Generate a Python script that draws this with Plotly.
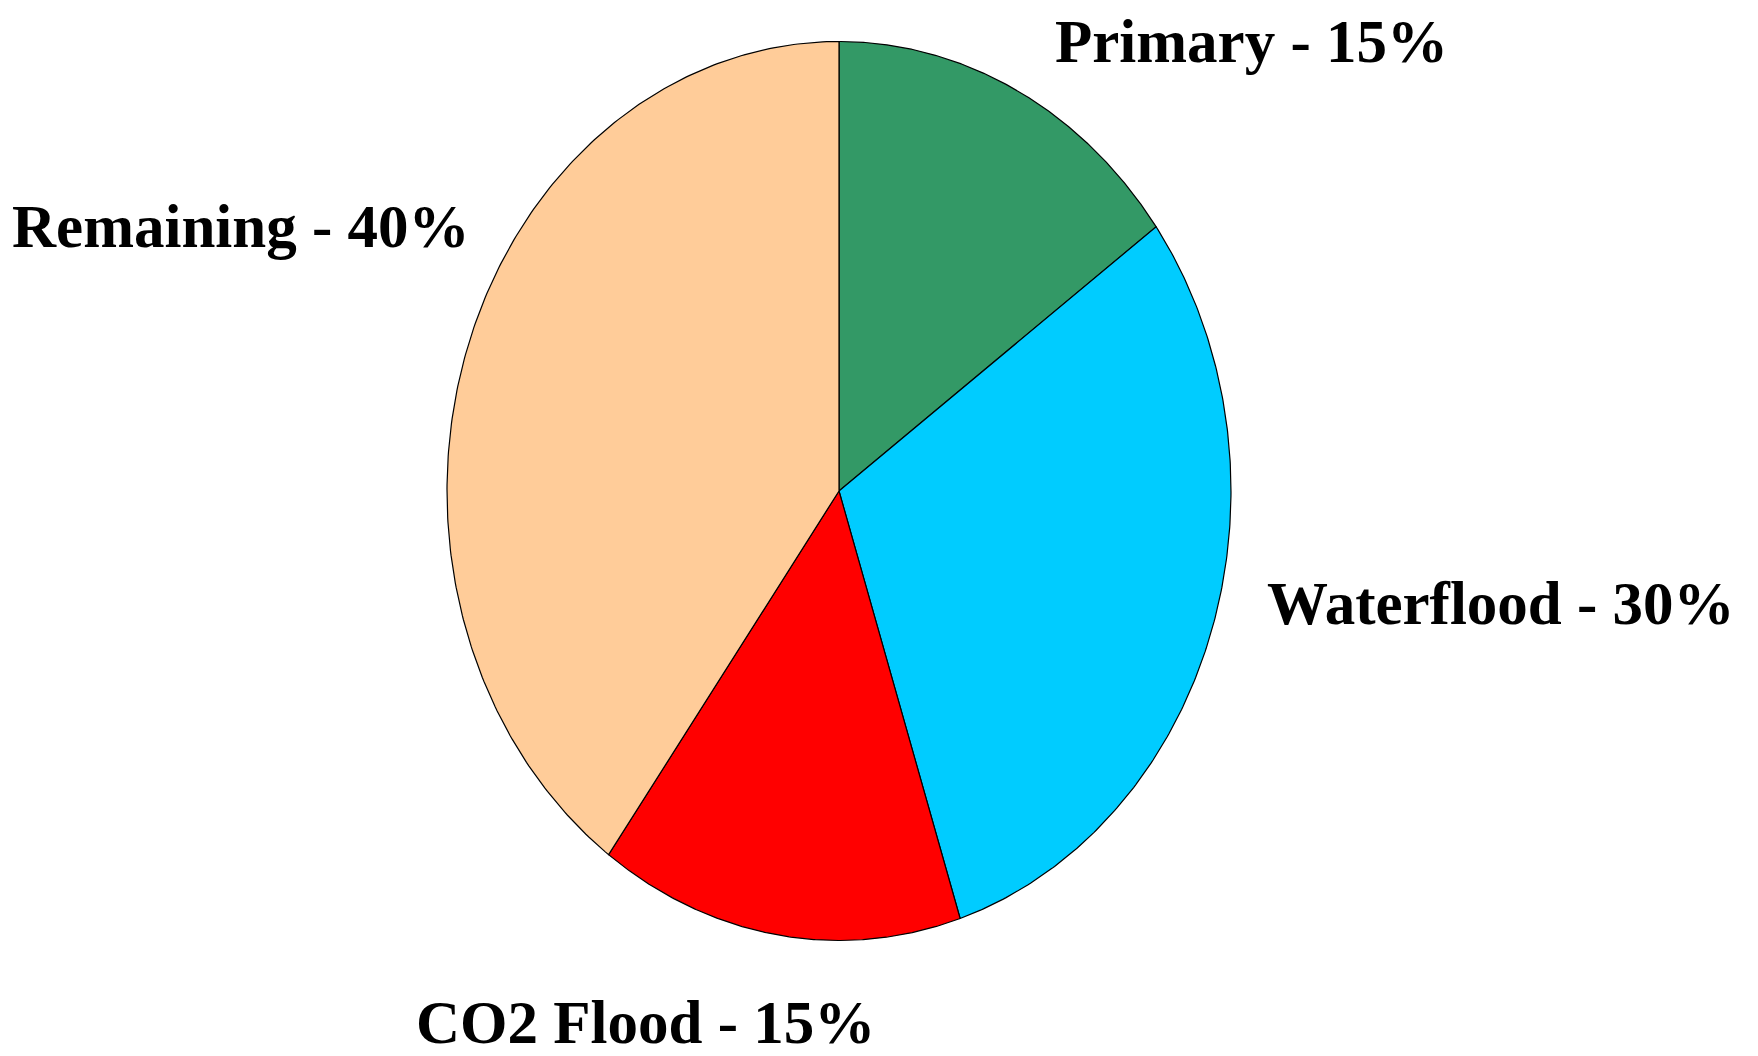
import numpy as np
import plotly.graph_objects as go

# Data
categories = ["Primary", "Waterflood", "CO2 Flood", "Remaining"]
values = [15, 30, 15, 40]
colors = ["#339966", "#00CCFF", "#FF0000", "#FFCC99"]
labels = [f"{c} - {v}%" for c, v in zip(categories, values)]

# Geometry (pixel space of the page, page body has an 8px margin)
W, H = 1758, 1056
cx, cy = 831, 483
rx, ry = 392, 449.5

fig = go.Figure()
total = sum(values)
start = 0.0
for cat, v, col in zip(categories, values, colors):
    a0 = 2 * np.pi * start / total
    a1 = 2 * np.pi * (start + v) / total
    t = np.linspace(a0, a1, 240)
    xs = np.concatenate([[cx], cx + rx * np.sin(t), [cx]])
    ys = np.concatenate([[cy], cy - ry * np.cos(t), [cy]])
    fig.add_trace(go.Scatter(
        x=xs, y=ys, mode="lines", fill="toself", fillcolor=col,
        line=dict(color="#000000", width=1.2), name=cat, hoverinfo="skip",
    ))
    start += v

# Label positions (text centres)
label_pos = [(1243, 33), (1493, 595), (637, 1014), (233, 218)]
for txt, (lx, ly) in zip(labels, label_pos):
    fig.add_annotation(
        x=lx, y=ly, xref="x", yref="y", text=txt, showarrow=False,
        xanchor="center", yanchor="middle",
        font=dict(family="Liberation Serif", size=61, color="#000000", weight="bold"),
    )

fig.update_layout(
    width=W, height=H,
    margin=dict(l=0, r=0, t=0, b=0),
    paper_bgcolor="white", plot_bgcolor="white",
    showlegend=False,
    xaxis=dict(range=[0, W], visible=False, fixedrange=True),
    yaxis=dict(range=[H, 0], visible=False, fixedrange=True),
)

fig.write_html("out.html")
